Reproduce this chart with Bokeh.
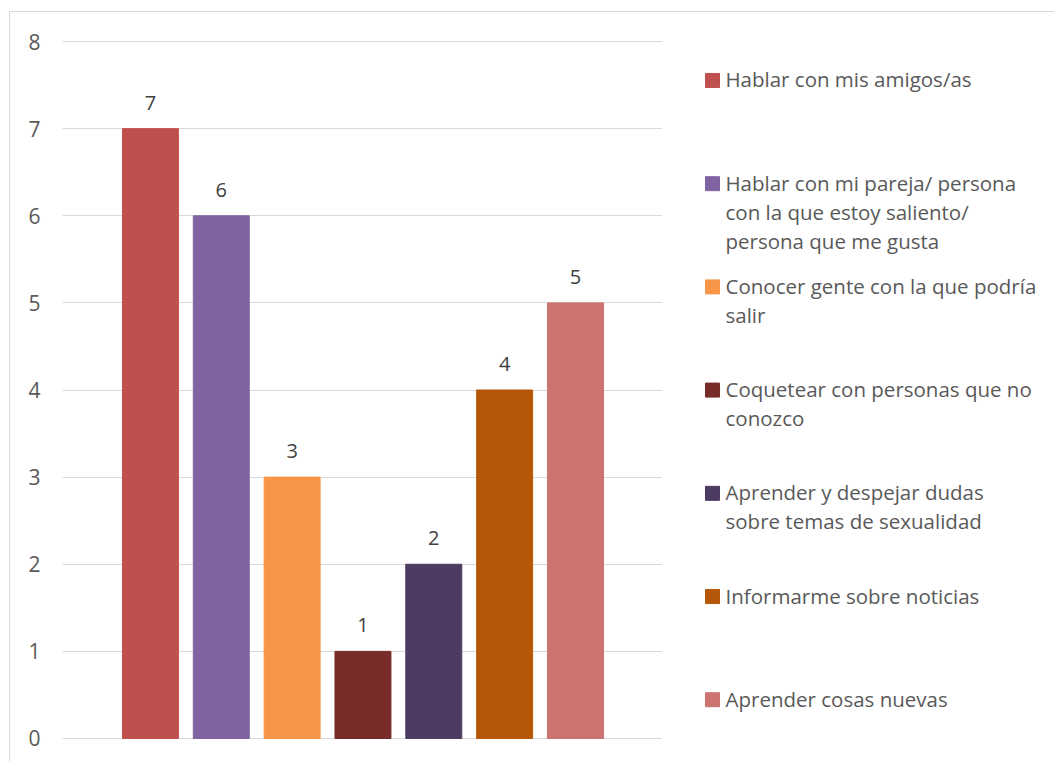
from bokeh.plotting import figure
from bokeh.models import Range1d, ColumnDataSource, FixedTicker
from bokeh.layouts import row
from bokeh.embed import file_html
from bokeh.resources import INLINE
from bokeh.core.properties import value

# ---- data ----
categories = [
    "Hablar con mis amigos/as",
    "Hablar con mi pareja/ persona\ncon la que estoy saliento/\npersona que me gusta",
    "Conocer gente con la que podría\nsalir",
    "Coquetear con personas que no\nconozco",
    "Aprender y despejar dudas\nsobre temas de sexualidad",
    "Informarme sobre noticias",
    "Aprender cosas nuevas",
]
values = [7, 6, 3, 1, 2, 4, 5]
y_ticks = [0, 1, 2, 3, 4, 5, 6, 7, 8]

colors = ["#C0504D", "#8064A2", "#F79646", "#772C2A", "#4D3B62", "#B65708", "#CD7371"]

FONT = "Open Sans"
TXT = "#595959"

idx = list(range(len(values)))
src = ColumnDataSource(dict(x=idx, top=values, color=colors,
                            lab=[str(v) for v in values]))

# ---- main chart ----
p1 = figure(width=652, height=749, output_backend="svg", toolbar_location=None,
            x_range=Range1d(-1.242, 7.229), y_range=Range1d(-0.023, 8.023),
            x_axis_location=None)
p1.min_border_left = 52
p1.min_border_right = 0
p1.min_border_top = 27
p1.min_border_bottom = 21
p1.outline_line_color = None
p1.xgrid.visible = False
p1.ygrid.grid_line_color = "#D9D9D9"
p1.ygrid.grid_line_width = 1
p1.yaxis.ticker = FixedTicker(ticks=y_ticks)
p1.yaxis.axis_line_color = None
p1.yaxis.major_tick_line_color = None
p1.yaxis.minor_tick_line_color = None
p1.yaxis.major_tick_out = 0
p1.yaxis.major_tick_in = 0
p1.yaxis.major_label_standoff = 22
p1.yaxis.major_label_text_font = FONT
p1.yaxis.major_label_text_font_size = "21px"
p1.yaxis.major_label_text_color = TXT

p1.vbar(x="x", top="top", width=0.79, bottom=0, color="color", source=src)
p1.text(x="x", y="top", text="lab", source=src, text_align="center",
        text_baseline="alphabetic", y_offset=-26,
        text_font=value(FONT), text_font_size="20px", text_color="#404040")

# ---- legend panel ----
leg = ColumnDataSource(dict(i=idx, lab=categories, color=colors))
p2 = figure(width=392, height=749, output_backend="svg", toolbar_location=None,
            x_range=Range1d(0, 392), y_range=Range1d(6.395, -0.397),
            x_axis_location=None, y_axis_location=None)
p2.min_border = 0
p2.min_border_top = 27
p2.min_border_bottom = 21
p2.outline_line_color = None
p2.grid.visible = False
p2.scatter(x=50, y="i", marker="square", size=14, color="color", source=leg)
p2.text(x=63, y="i", text="lab", source=leg, text_align="left",
        text_baseline="top", y_offset=-15, text_line_height=1.04,
        text_font=value(FONT), text_font_size="20.5px", text_color=TXT)

layout = row(p1, p2)
layout.margin = (11, 0, 0, 9)
layout.styles = {"border-top": "1px solid #D9D9D9", "border-left": "1px solid #D9D9D9"}

open("out.html", "w").write(file_html(layout, INLINE))
